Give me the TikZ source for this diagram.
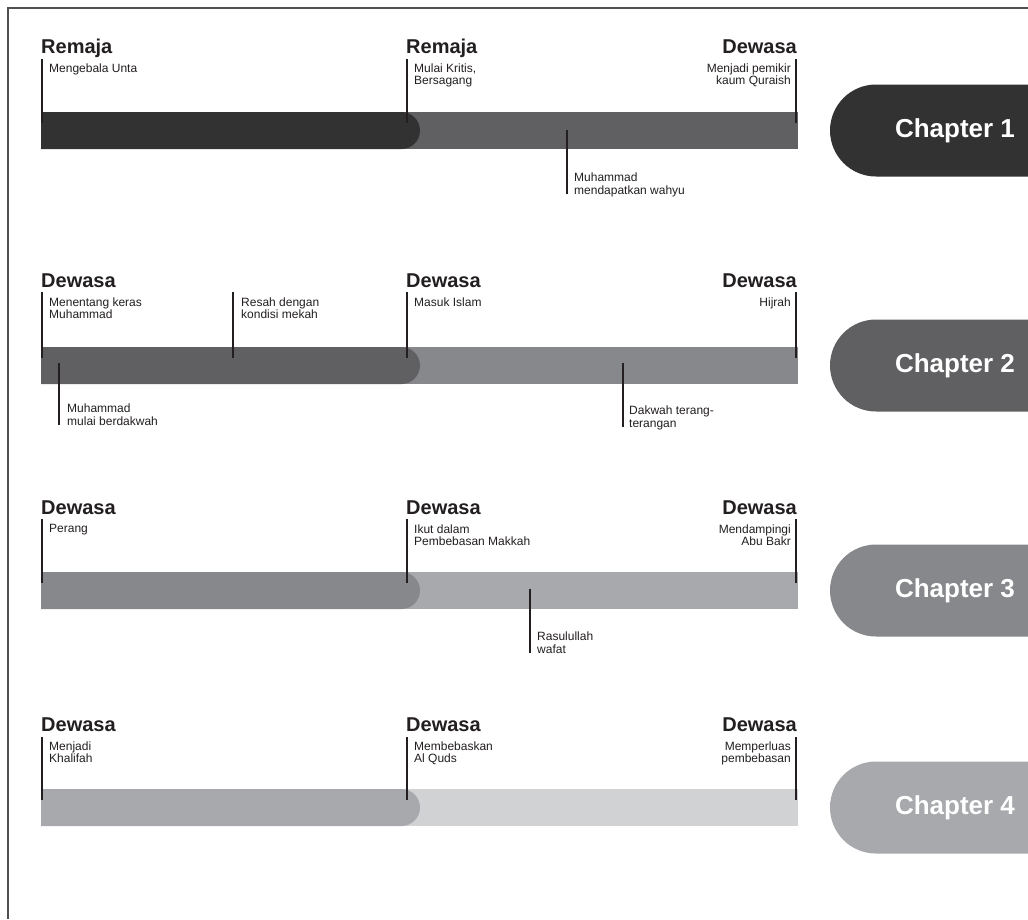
\documentclass[tikz,border=0pt]{standalone}
\usepackage{fontspec}
\setmainfont{Liberation Sans}
\definecolor{c1}{RGB}{51,50,51}
\definecolor{c2}{RGB}{96,96,98}
\definecolor{c3}{RGB}{135,136,139}
\definecolor{c4}{RGB}{168,169,172}
\definecolor{c5}{RGB}{209,210,212}
\definecolor{tickcol}{RGB}{35,31,32}
\definecolor{framecol}{RGB}{80,80,80}
\tikzset{
  head/.style={inner sep=0pt, font={\fontsize{20}{20}\selectfont\bfseries}, text=tickcol},
  sub/.style={inner sep=0pt, font={\fontsize{12}{12.5}\selectfont}, text=tickcol},
  subl/.style={sub, anchor=north west, align=left},
  subr/.style={sub, anchor=north east, align=right},
  tickline/.style={draw=tickcol, line width=2pt},
  badgetext/.style={inner sep=0pt, font={\fontsize{26}{26}\selectfont\bfseries}, text=white},
  badge/.style={rounded corners=46},
}
\begin{document}
\begin{tikzpicture}[x=1pt,y=-1pt]
\useasboundingbox (0,0) rectangle (1028,919);
\fill[white] (0,0) rectangle (1028,919);
\draw[framecol, line width=1.2pt] (1028,8) -- (8,8) -- (8,919);

% ---------- Row 1 ----------
\fill[c2] (400,112) rectangle (798,149);
\fill[c1] (41,112) -- (401.5,112) arc[start angle=-90, end angle=90, radius=18.5] -- (41,149) -- cycle;
\node[head, anchor=base west] (h11) at (41,53) {Remaja};
\node[head, anchor=base west] (h12) at (406,53) {Remaja};
\node[head, anchor=base east] (h13) at (797,53) {Dewasa};
\coordinate (t11a) at (42,59); \coordinate (t11b) at (42,123);
\coordinate (t12a) at (407,59); \coordinate (t12b) at (407,123);
\coordinate (t13a) at (796,59); \coordinate (t13b) at (796,123);
\coordinate (t14a) at (567,130); \coordinate (t14b) at (567,194);
\draw[tickline] (t11a) -- (t11b);
\draw[tickline] (t12a) -- (t12b);
\draw[tickline] (t13a) -- (t13b);
\draw[tickline] (t14a) -- (t14b);
\node[subl] (s11) at (49,63.3) {Mengebala Unta};
\node[subl] (s12) at (414,63.3) {Mulai Kritis,\\Bersagang};
\node[subr] (s13) at (791,63.3) {Menjadi pemikir\\kaum Quraish};
\node[subl] (s14) at (574,173) {Muhammad\\mendapatkan wahyu};
\fill[c1, badge] (830,84.5) rectangle (1130,176.5);
\node[badgetext] (b1) at (955,130.5) {Chapter 1};

% ---------- Row 2 ----------
\fill[c3] (400,347) rectangle (798,384);
\fill[c2] (41,347) -- (401.5,347) arc[start angle=-90, end angle=90, radius=18.5] -- (41,384) -- cycle;
\node[head, anchor=base west] (h21) at (41,287) {Dewasa};
\node[head, anchor=base west] (h22) at (406,287) {Dewasa};
\node[head, anchor=base east] (h23) at (797,287) {Dewasa};
\coordinate (t21a) at (42,292); \coordinate (t21b) at (42,358);
\coordinate (t22a) at (233,292); \coordinate (t22b) at (233,358);
\coordinate (t23a) at (407,292); \coordinate (t23b) at (407,358);
\coordinate (t24a) at (796,292); \coordinate (t24b) at (796,358);
\coordinate (t25a) at (59,363); \coordinate (t25b) at (59,425);
\coordinate (t26a) at (623,363); \coordinate (t26b) at (623,427);
\draw[tickline] (t21a) -- (t21b);
\draw[tickline] (t22a) -- (t22b);
\draw[tickline] (t23a) -- (t23b);
\draw[tickline] (t24a) -- (t24b);
\draw[tickline] (t25a) -- (t25b);
\draw[tickline] (t26a) -- (t26b);
\node[subl] (s21) at (49,297.3) {Menentang keras\\Muhammad};
\node[subl] (s22) at (241,297.3) {Resah dengan\\kondisi mekah};
\node[subl] (s23) at (414,297.3) {Masuk Islam};
\node[subr] (s24) at (791,297.3) {Hijrah};
\node[subl] (s25) at (67,404) {Muhammad\\mulai berdakwah};
\node[subl] (s26) at (629,406) {Dakwah terang-\\terangan};
\fill[c2, badge] (830,319.5) rectangle (1130,411.5);
\node[badgetext] (b2) at (955,365.5) {Chapter 2};

% ---------- Row 3 ----------
\fill[c4] (400,572) rectangle (798,609);
\fill[c3] (41,572) -- (401.5,572) arc[start angle=-90, end angle=90, radius=18.5] -- (41,609) -- cycle;
\node[head, anchor=base west] (h31) at (41,514) {Dewasa};
\node[head, anchor=base west] (h32) at (406,514) {Dewasa};
\node[head, anchor=base east] (h33) at (797,514) {Dewasa};
\coordinate (t31a) at (42,519); \coordinate (t31b) at (42,583);
\coordinate (t32a) at (407,519); \coordinate (t32b) at (407,583);
\coordinate (t33a) at (796,519); \coordinate (t33b) at (796,583);
\coordinate (t34a) at (530,589); \coordinate (t34b) at (530,653);
\draw[tickline] (t31a) -- (t31b);
\draw[tickline] (t32a) -- (t32b);
\draw[tickline] (t33a) -- (t33b);
\draw[tickline] (t34a) -- (t34b);
\node[subl] (s31) at (49,524.3) {Perang};
\node[subl] (s32) at (414,524.3) {Ikut dalam\\Pembebasan Makkah};
\node[subr] (s33) at (791,524.3) {Mendampingi\\Abu Bakr};
\node[subl] (s34) at (537,632) {Rasulullah\\wafat};
\fill[c3, badge] (830,544.5) rectangle (1130,636.5);
\node[badgetext] (b3) at (955,590.5) {Chapter 3};

% ---------- Row 4 ----------
\fill[c5] (400,789) rectangle (798,826);
\fill[c4] (41,789) -- (401.5,789) arc[start angle=-90, end angle=90, radius=18.5] -- (41,826) -- cycle;
\node[head, anchor=base west] (h41) at (41,731) {Dewasa};
\node[head, anchor=base west] (h42) at (406,731) {Dewasa};
\node[head, anchor=base east] (h43) at (797,731) {Dewasa};
\coordinate (t41a) at (42,737); \coordinate (t41b) at (42,800);
\coordinate (t42a) at (407,737); \coordinate (t42b) at (407,800);
\coordinate (t43a) at (796,737); \coordinate (t43b) at (796,800);
\draw[tickline] (t41a) -- (t41b);
\draw[tickline] (t42a) -- (t42b);
\draw[tickline] (t43a) -- (t43b);
\node[subl] (s41) at (49,741.3) {Menjadi\\Khalifah};
\node[subl] (s42) at (414,741.3) {Membebaskan\\Al Quds};
\node[subr] (s43) at (791,741.3) {Memperluas\\pembebasan};
\fill[c4, badge] (830,761.5) rectangle (1130,853.5);
\node[badgetext] (b4) at (955,807.5) {Chapter 4};
\end{tikzpicture}
\end{document}
